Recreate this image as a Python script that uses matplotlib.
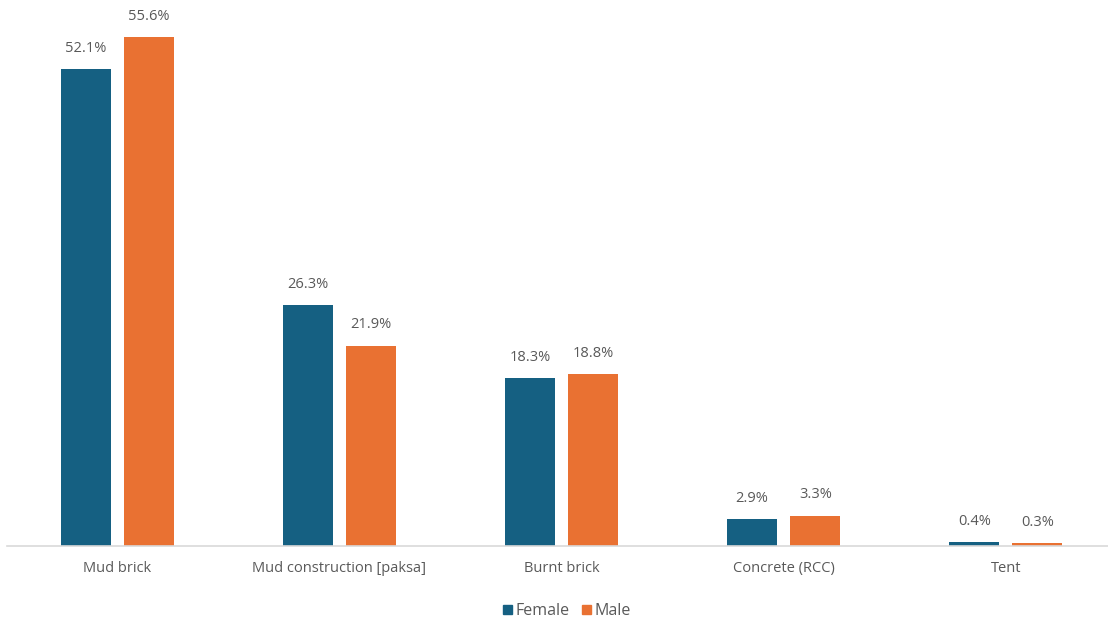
import matplotlib
matplotlib.use("Agg")
import matplotlib.pyplot as plt
from matplotlib.patches import Patch

categories = ["Mud brick", "Mud construction [paksa]", "Burnt brick", "Concrete (RCC)", "Tent"]
female = [52.1, 26.3, 18.3, 2.9, 0.4]
male = [55.6, 21.9, 18.8, 3.3, 0.3]
series_names = ["Female", "Male"]
colors = ["#156082", "#E97132"]
text_color = "#595959"

plt.rcParams['font.family'] = ['Open Sans', 'DejaVu Sans']

W, H = 1108, 623
fig = plt.figure(figsize=(W / 100, H / 100), dpi=100)
ax = fig.add_axes([7 / W, 77 / H, (W - 7) / W, 546 / H])

x = list(range(len(categories)))
off = 0.142
bw = 0.225
b1 = ax.bar([i - off for i in x], female, width=bw, color=colors[0])
b2 = ax.bar([i + off for i in x], male, width=bw, color=colors[1])

for bars, vals in ((b1, female), (b2, male)):
    for r, v in zip(bars, vals):
        ax.annotate(f"{v:.1f}%", (r.get_x() + r.get_width() / 2, r.get_height()),
                    xytext=(0, 15), textcoords="offset points",
                    ha="center", va="center", fontsize=10.5, color=text_color)

ax.set_xlim(-0.497, 4.46)
ax.set_ylim(0, 59.64)
ax.set_xticks(x)
ax.set_xticklabels(categories, fontsize=10.5, color=text_color)
ax.tick_params(axis='x', length=0, pad=11)
ax.set_yticks([])
for s in ("top", "right", "left"):
    ax.spines[s].set_visible(False)
ax.spines["bottom"].set_color("#D9D9D9")
ax.spines["bottom"].set_linewidth(1.2)

handles = [Patch(color=c, label=n) for c, n in zip(colors, series_names)]
fig.legend(handles=handles, loc="center", bbox_to_anchor=(567 / W, 1 - 611 / H),
           ncol=2, frameon=False, fontsize=11.5, labelcolor=text_color,
           handlelength=0.55, handleheight=0.55, handletextpad=0.2, columnspacing=0.8)

fig.savefig("out.png", dpi=100)
